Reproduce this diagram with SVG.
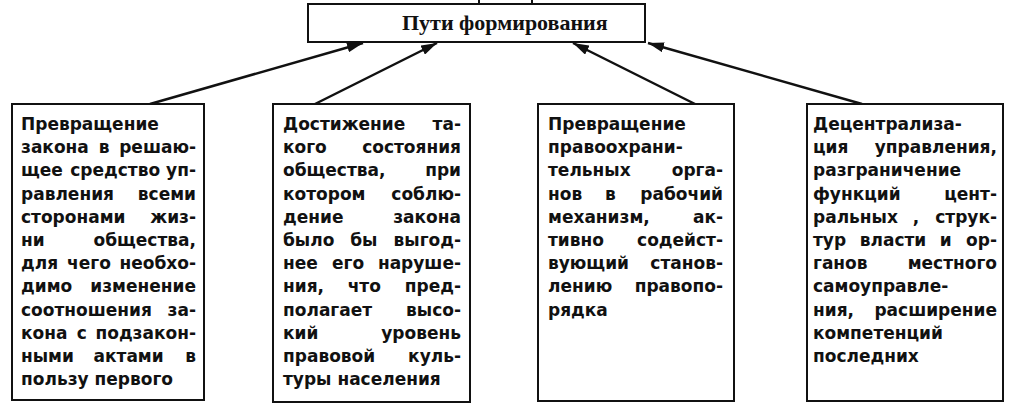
<svg xmlns="http://www.w3.org/2000/svg" width="1024" height="419" viewBox="0 0 1024 419">
<style>
.bg{fill:#fff}
.box{fill:#fff;stroke:#111;stroke-width:2}
.ttl{font-family:"Liberation Serif","Times New Roman",serif;font-weight:bold;font-size:22px;fill:#111}
.t{font-family:"DejaVu Sans","Liberation Sans",sans-serif;font-weight:bold;font-size:17px;fill:#111}
.e{text-anchor:end}
.c{fill:none;stroke:#111;stroke-width:2.5}
</style>
<defs>
<marker id="ah" markerUnits="userSpaceOnUse" markerWidth="16" markerHeight="10" refX="16" refY="5" orient="auto">
<path d="M0,0 L16,5 L0,10 z" fill="#111"/>
</marker>
</defs>
<rect class="bg" x="0" y="0" width="1024" height="419"/>
<g id="top-fragment"><rect class="box" x="479" y="-20" width="53" height="24"/></g>
<g id="title"><rect class="box" x="308" y="4" width="337" height="38"/><text class="ttl" x="402" y="30">Пути формирования</text></g>
<g id="connectors">
<path class="c" d="M150,104 L363,43" marker-end="url(#ah)"/>
<path class="c" d="M315,104 L437,43" marker-end="url(#ah)"/>
<path class="c" d="M695,104 L573,43" marker-end="url(#ah)"/>
<path class="c" d="M862,104 L648,43" marker-end="url(#ah)"/>
</g>
<g id="box1"><rect class="box" x="12" y="104" width="192" height="296"/>
<text class="t" x="21" y="130">Превращение</text>
<text class="t" y="153.2"><tspan x="21">закона</tspan><tspan dx="10">в</tspan><tspan class="e" x="196">решаю-</tspan></text>
<text class="t" y="176.4"><tspan x="21">щее</tspan><tspan dx="7.4">средство</tspan><tspan class="e" x="196">уп-</tspan></text>
<text class="t" y="199.6"><tspan x="21">равления</tspan><tspan class="e" x="196">всеми</tspan></text>
<text class="t" y="222.8"><tspan x="21">сторонами</tspan><tspan class="e" x="196">жиз-</tspan></text>
<text class="t" y="246"><tspan x="21">ни</tspan><tspan class="e" x="196">общества,</tspan></text>
<text class="t" y="269.2"><tspan x="21">для</tspan><tspan dx="9">чего</tspan><tspan class="e" x="196">необхо-</tspan></text>
<text class="t" y="292.4"><tspan x="21">димо</tspan><tspan class="e" x="196">изменение</tspan></text>
<text class="t" y="315.6"><tspan x="21">соотношения</tspan><tspan class="e" x="196">за-</tspan></text>
<text class="t" y="338.8"><tspan x="21">кона</tspan><tspan dx="9.2">с</tspan><tspan class="e" x="196">подзакон-</tspan></text>
<text class="t" y="362"><tspan x="21">ными</tspan><tspan dx="19.6">актами</tspan><tspan class="e" x="196">в</tspan></text>
<text class="t" x="21" y="385.2">пользу первого</text>
</g>
<g id="box2"><rect class="box" x="273" y="104" width="197" height="298"/>
<text class="t" y="130"><tspan x="283">Достижение</tspan><tspan class="e" x="461">та-</tspan></text>
<text class="t" y="153.2"><tspan x="283">кого</tspan><tspan class="e" x="461">состояния</tspan></text>
<text class="t" y="176.4"><tspan x="283">общества,</tspan><tspan class="e" x="461">при</tspan></text>
<text class="t" y="199.6"><tspan x="283">котором</tspan><tspan class="e" x="461">соблю-</tspan></text>
<text class="t" y="222.8"><tspan x="283">дение</tspan><tspan class="e" x="461">закона</tspan></text>
<text class="t" y="246"><tspan x="283">было</tspan><tspan dx="15.8">бы</tspan><tspan class="e" x="461">выгод-</tspan></text>
<text class="t" y="269.2"><tspan x="283">нее</tspan><tspan dx="14.2">его</tspan><tspan class="e" x="461">наруше-</tspan></text>
<text class="t" y="292.4"><tspan x="283">ния,</tspan><tspan dx="23.6">что</tspan><tspan class="e" x="461">пред-</tspan></text>
<text class="t" y="315.6"><tspan x="283">полагает</tspan><tspan class="e" x="461">высо-</tspan></text>
<text class="t" y="338.8"><tspan x="283">кий</tspan><tspan class="e" x="461">уровень</tspan></text>
<text class="t" y="362"><tspan x="283">правовой</tspan><tspan class="e" x="461">куль-</tspan></text>
<text class="t" x="283" y="385.2">туры населения</text>
</g>
<g id="box3"><rect class="box" x="538" y="104" width="196" height="297"/>
<text class="t" x="548" y="130">Превращение</text>
<text class="t" x="548" y="153.2">правоохрани-</text>
<text class="t" y="176.4"><tspan x="548">тельных</tspan><tspan class="e" x="723">орга-</tspan></text>
<text class="t" y="199.6"><tspan x="548">нов</tspan><tspan dx="22.8">в</tspan><tspan class="e" x="723">рабочий</tspan></text>
<text class="t" y="222.8"><tspan x="548">механизм,</tspan><tspan class="e" x="723">ак-</tspan></text>
<text class="t" y="246"><tspan x="548">тивно</tspan><tspan class="e" x="723">содейст-</tspan></text>
<text class="t" y="269.2"><tspan x="548">вующий</tspan><tspan class="e" x="723">станов-</tspan></text>
<text class="t" y="292.4"><tspan x="548">лению</tspan><tspan class="e" x="723">правопо-</tspan></text>
<text class="t" x="548" y="315.6">рядка</text>
</g>
<g id="box4"><rect class="box" x="807" y="104" width="196" height="297"/>
<text class="t" x="813" y="130">Децентрализа-</text>
<text class="t" y="153.2"><tspan x="813">ция</tspan><tspan class="e" x="997">управления,</tspan></text>
<text class="t" x="813" y="176.4">разграничение</text>
<text class="t" y="199.6"><tspan x="813">функций</tspan><tspan class="e" x="997">цент-</tspan></text>
<text class="t" y="222.8"><tspan x="813">ральных</tspan><tspan dx="14.8">,</tspan><tspan class="e" x="997">струк-</tspan></text>
<text class="t" y="246"><tspan x="813">тур</tspan><tspan dx="13.6">власти</tspan><tspan dx="13.6">и</tspan><tspan class="e" x="997">ор-</tspan></text>
<text class="t" y="269.2"><tspan x="813">ганов</tspan><tspan class="e" x="997">местного</tspan></text>
<text class="t" x="813" y="292.4">самоуправле-</text>
<text class="t" y="315.6"><tspan x="813">ния,</tspan><tspan class="e" x="997">расширение</tspan></text>
<text class="t" x="813" y="338.8">компетенций</text>
<text class="t" x="813" y="362">последних</text>
</g>
</svg>
